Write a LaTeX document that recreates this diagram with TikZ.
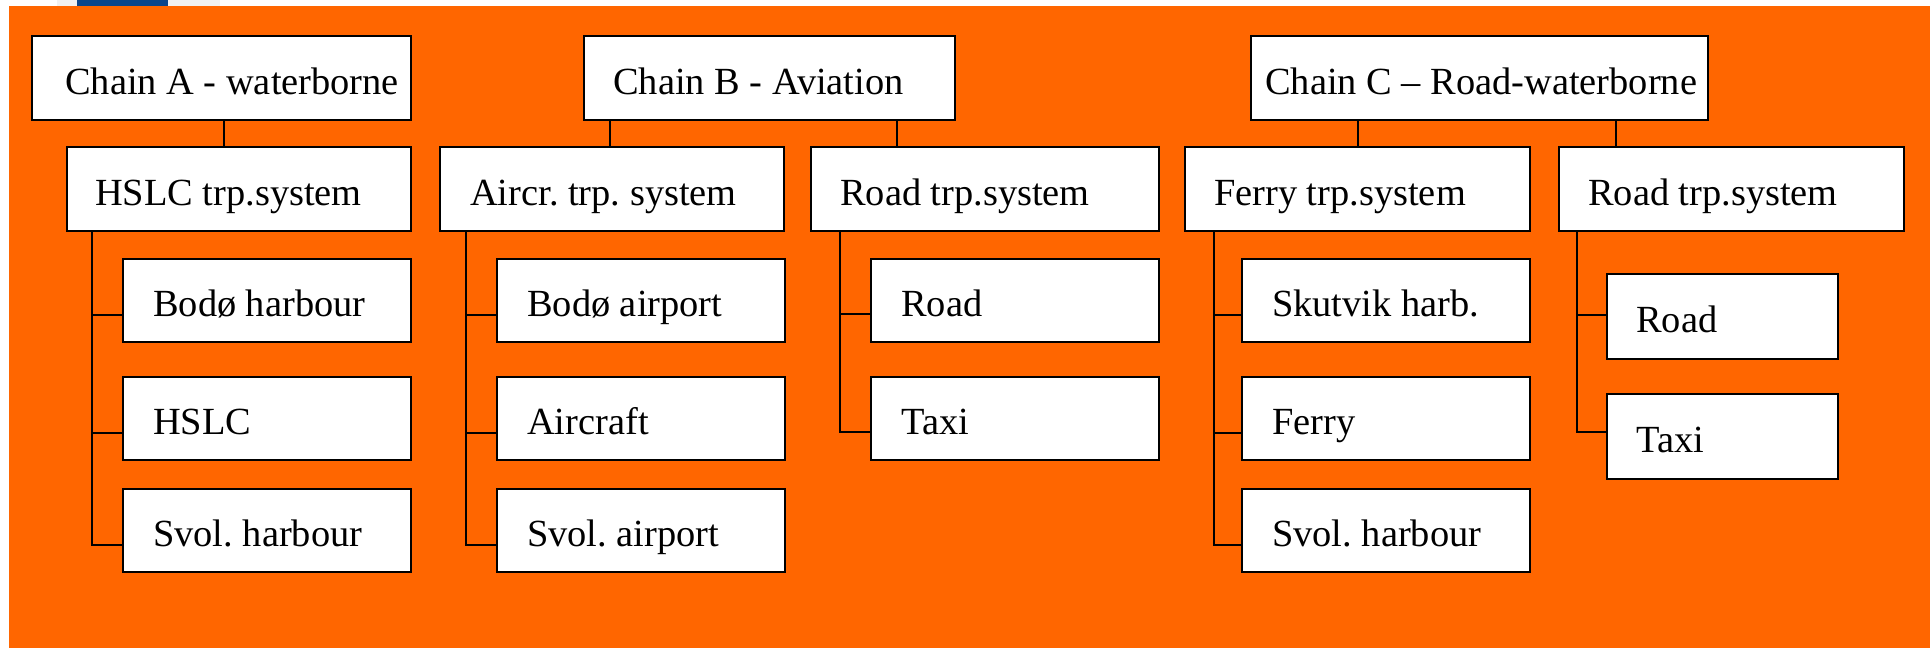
\documentclass[tikz,border=0pt]{standalone}
\usepackage{fontspec}
\setmainfont{Liberation Serif}
\usetikzlibrary{calc}
\definecolor{slideorange}{HTML}{FF6600}
\definecolor{slideblue}{HTML}{0A468C}
\definecolor{stripgray}{HTML}{F1F1F1}
% fixed-width, left-aligned label: width, left indent, text
\newcommand\boxlbl[3]{\makebox[#1][l]{\hspace*{#2}#3}}
\frenchspacing
\begin{document}
\begin{tikzpicture}[x=0.5pt,y=-0.5pt,
  box/.style={draw=black, fill=white, line width=1.2pt, anchor=north west,
    inner xsep=0pt, inner ysep=0pt, text height=16pt, text depth=0pt,
    font=\fontsize{19.2pt}{23pt}\selectfont},
  hA/.style={minimum height=42pt},
  hB/.style={minimum height=41.5pt},
  hC/.style={minimum height=42.5pt},
  link/.style={draw=black, line width=1.1pt}]
\useasboundingbox (0,0) rectangle (1932,648);

% slide background
\fill[white] (0,0) rectangle (1932,648);
\fill[slideorange] (9,6) rectangle (1930,648);
\fill[stripgray] (57,0) rectangle (77,6);
\fill[stripgray] (168,0) rectangle (220,6);
\fill[slideblue] (77,0) rectangle (168,6);

% chains
\node[box,hA] (ca) at (31,35)   {\boxlbl{189.5pt}{16.5pt}{Chain A - waterborne}};
\node[box,hA] (cb) at (583,35)  {\boxlbl{185.5pt}{14.5pt}{Chain B - Aviation}};
\node[box,hA] (cc) at (1250,35) {\boxlbl{228.5pt}{7pt}{Chain C – Road-waterborne}};

% transport systems
\node[box,hA] (hs) at (66,146)   {\boxlbl{172pt}{14pt}{HSLC trp.system}};
\node[box,hA] (ai) at (439,146)  {\boxlbl{172pt}{15pt}{Aircr. trp. system}};
\node[box,hA] (rb) at (810,146)  {\boxlbl{174pt}{14.5pt}{Road trp.system}};
\node[box,hA] (fe) at (1184,146) {\boxlbl{172.5pt}{14.5pt}{Ferry trp.system}};
\node[box,hA] (rc) at (1558,146) {\boxlbl{172.5pt}{14.5pt}{Road trp.system}};

% chain A elements
\node[box,hB] (a1) at (122,258) {\boxlbl{144pt}{15pt}{Bodø harbour}};
\node[box,hB] (a2) at (122,376) {\boxlbl{144pt}{15pt}{HSLC}};
\node[box,hB] (a3) at (122,488) {\boxlbl{144pt}{15pt}{Svol. harbour}};

% chain B elements
\node[box,hB] (b1) at (496,258) {\boxlbl{144pt}{15pt}{Bodø airport}};
\node[box,hB] (b2) at (496,376) {\boxlbl{144pt}{15pt}{Aircraft}};
\node[box,hB] (b3) at (496,488) {\boxlbl{144pt}{15pt}{Svol. airport}};
\node[box,hB] (r1) at (870,258) {\boxlbl{144pt}{15pt}{Road}};
\node[box,hB] (r2) at (870,376) {\boxlbl{144pt}{15pt}{Taxi}};

% chain C elements
\node[box,hB] (s1) at (1241,258) {\boxlbl{144pt}{15pt}{Skutvik harb.}};
\node[box,hB] (s2) at (1241,376) {\boxlbl{144pt}{15pt}{Ferry}};
\node[box,hB] (s3) at (1241,488) {\boxlbl{144pt}{15pt}{Svol. harbour}};
\node[box,hC] (t1) at (1606,273) {\boxlbl{115.5pt}{14.5pt}{Road}};
\node[box,hC] (t2) at (1606,393) {\boxlbl{115.5pt}{14.5pt}{Taxi}};

% chain to system links
\coordinate (pa)  at ($(ca.south west)+(193,0)$);
\coordinate (pb1) at ($(cb.south west)+(27,0)$);
\coordinate (pb2) at ($(cb.south west)+(314,0)$);
\coordinate (pc1) at ($(cc.south west)+(108,0)$);
\coordinate (pc2) at ($(cc.south west)+(366,0)$);
\draw[link] (pa)  -- (pa  |- hs.north);
\draw[link] (pb1) -- (pb1 |- ai.north);
\draw[link] (pb2) -- (pb2 |- rb.north);
\draw[link] (pc1) -- (pc1 |- fe.north);
\draw[link] (pc2) -- (pc2 |- rc.north);

% system to element trunks
\coordinate (ta) at ($(hs.south west)+(26,0)$);
\coordinate (tb) at ($(ai.south west)+(27,0)$);
\coordinate (tr) at ($(rb.south west)+(30,0)$);
\coordinate (ts) at ($(fe.south west)+(30,0)$);
\coordinate (tt) at ($(rc.south west)+(19,0)$);
\foreach \n in {a1,a2,a3} \draw[link] (ta) |- ($(\n.north west)+(0,57)$);
\foreach \n in {b1,b2,b3} \draw[link] (tb) |- ($(\n.north west)+(0,57)$);
\foreach \n in {r1,r2}    \draw[link] (tr) |- ($(\n.north west)+(0,56)$);
\foreach \n in {s1,s2,s3} \draw[link] (ts) |- ($(\n.north west)+(0,57)$);
\draw[link] (tt) |- ($(t1.north west)+(0,42)$);
\draw[link] (tt) |- ($(t2.north west)+(0,39)$);
\end{tikzpicture}
\end{document}
